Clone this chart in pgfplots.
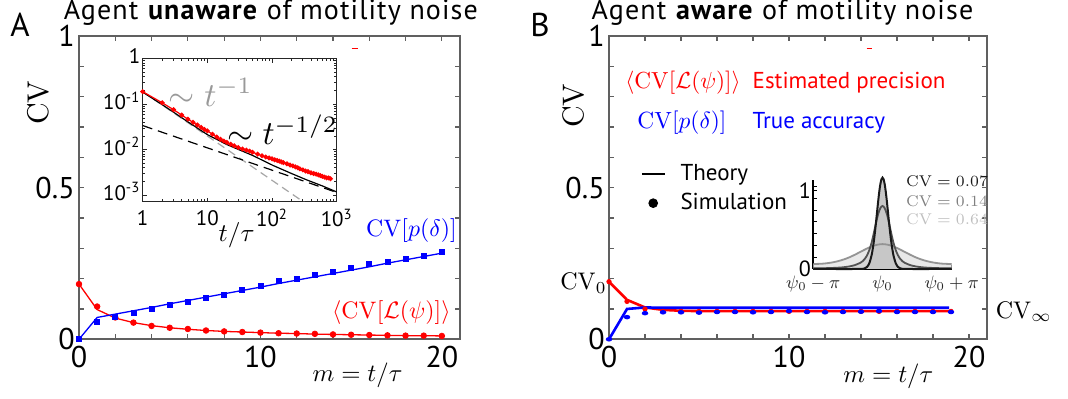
\RequirePackage{fix-cm}
\documentclass[border=0pt]{standalone}
\usepackage[no-math]{fontspec}
\setmainfont{PT Sans}
\usepackage{pgfplots}
\pgfplotsset{compat=1.18}
\definecolor{framegray}{HTML}{606060}
\definecolor{cvred}{HTML}{FF0000}
\definecolor{cvblue}{HTML}{0000FF}
\newcommand\fs[2]{\fontsize{#1}{#2}\selectfont}
\tikzset{mlab/.style={font=\fs{10}{12}, scale=#1, transform shape}}
\pgfplotsset{
  lineimg/.style={legend image code/.code={\draw[##1] (0pt,0pt) -- (11.3pt,0pt);}},
  dotimg/.style={legend image code/.code={\draw[##1] plot coordinates {(5.65pt,0pt)};}},
  mainax/.style={
    anchor=south west, scale only axis, height=151.65pt,
    xmin=0, xmax=21, ymin=0, ymax=1,
    xtick={0,10,20}, xticklabels={0,10,20},
    minor xtick={2,4,6,8,12,14,16,18},
    ytick={0,0.5,1}, yticklabels={0,0.5,1},
    minor ytick={0.1,0.2,0.3,0.4,0.6,0.7,0.8,0.9},
    tick align=inside, major tick length=2.5pt, minor tick length=2.5pt,
    every tick/.style={framegray, line width=0.6pt},
    axis line style={framegray, line width=0.8pt},
    tick label style={font=\fs{15}{18}, black},
    yticklabel style={inner xsep=2pt},
    clip=false,
  }
}
\begin{document}
\begin{tikzpicture}
\path[use as bounding box] (0pt,0pt) rectangle (534pt,199.5pt);

\node[anchor=base, font=\fs{14}{16}\addfontfeatures{LetterSpace=4}] at (135.4pt,189.9pt) {Agent \textbf{unaware} of motility noise};
\node[anchor=base, font=\fs{14}{16}\addfontfeatures{LetterSpace=4}] at (391.25pt,189.9pt) {Agent \textbf{aware} of motility noise};
\node[anchor=base, font=\fs{16.5}{18}] at (10pt,181.15pt) {A};
\node[anchor=base, font=\fs{16.5}{18}] at (270pt,181.15pt) {B};

% ---------------- Panel A main axis
\begin{axis}[mainax, at={(39.5pt,29.85pt)}, width=190.5pt]
\addplot[cvred, line width=0.65pt] coordinates {(0,0.182)(1,0.098)(2,0.070)(3,0.055)(4,0.045)(5,0.038)(6,0.033)(7,0.029)(8,0.026)(9,0.024)(10,0.022)(11,0.020)(12,0.019)(13,0.017)(14,0.016)(15,0.015)(16,0.014)(17,0.013)(18,0.012)(19,0.012)(20,0.011)};
\addplot[cvred, only marks, mark=*, mark size=1.4pt] coordinates {(0,0.182)(1,0.108)(2,0.072)(3,0.055)(4,0.044)(5,0.038)(6,0.034)(7,0.029)(8,0.026)(9,0.024)(10,0.022)(11,0.020)(12,0.019)(13,0.018)(14,0.016)(15,0.015)(16,0.014)(17,0.013)(18,0.012)(19,0.012)(20,0.011)};
\addplot[cvblue, line width=0.65pt] coordinates {(0,0)(1,0.072)(2,0.083)(3,0.094)(4,0.105)(5,0.117)(6,0.128)(7,0.139)(8,0.150)(9,0.161)(10,0.172)(11,0.184)(12,0.195)(13,0.206)(14,0.217)(15,0.228)(16,0.239)(17,0.251)(18,0.262)(19,0.273)(20,0.284)};
\addplot[cvblue, only marks, mark=square*, mark size=1.25pt] coordinates {(0,0)(1,0.057)(2,0.075)(3,0.088)(4,0.100)(5,0.112)(6,0.123)(7,0.135)(8,0.148)(9,0.162)(10,0.176)(11,0.191)(12,0.200)(13,0.212)(14,0.223)(15,0.236)(16,0.249)(17,0.254)(18,0.265)(19,0.275)(20,0.287)};
\addplot[cvred, line width=0.8pt] coordinates {(15.02,0.959)(15.39,0.959)};
\node[cvblue, mlab=1.19] at (axis cs:18.32,0.358) {$\mathrm{CV}[p(\delta)]$};
\node[cvred, mlab=1.19] at (axis cs:17.22,0.089) {$\langle\mathrm{CV}[\mathcal{L}(\psi)]\rangle$};
\node[mlab=1.24] at (rel axis cs:0.731,-0.12) {$m = t/\tau$};
\node[rotate=90, mlab=1.5] at (rel axis cs:-0.108,0.781) {$\mathrm{CV}$};
\end{axis}

% ---------------- Panel A inset (log-log)
\begin{axis}[
  at={(71.35pt,98.65pt)}, anchor=south west, scale only axis,
  width=97pt, height=71.45pt,
  xmode=log, ymode=log, xmin=1, xmax=1000, ymin=7.2e-4, ymax=1,
  xtick={1,10,100,1000}, xticklabels={1,10,10\textsuperscript{2},10\textsuperscript{3}},
  ytick={0.001,0.01,0.1,1}, yticklabels={10\textsuperscript{-3},10\textsuperscript{-2},10\textsuperscript{-1},1},
  typeset ticklabels with strut,
  tick align=inside, major tick length=2pt, minor tick length=1.2pt,
  every tick/.style={black!85, line width=0.4pt},
  axis line style={black!85, line width=0.6pt},
  tick label style={font=\fs{10.5}{12}, black},
  yticklabel style={inner xsep=1pt},
  axis background/.style={fill=white},
  clip mode=individual,
]
\addplot[black!35, line width=0.6pt, dash pattern=on 4pt off 2.5pt] coordinates {(1,0.189)(400,5.5e-4)};
\addplot[black, line width=0.6pt, dash pattern=on 5pt off 3pt] coordinates {(1,0.034)(1000,0.00115)};
\addplot[black, line width=0.6pt] coordinates {(1,0.185)(2,0.098)(3,0.067)(5,0.041)(10,0.0215)(20,0.0130)(32,0.0098)(50,0.0075)(104,0.0045)(200,0.0030)(336,0.0022)(600,0.0016)(1000,0.00118)};
\addplot[cvred, line width=0.6pt, mark=*, mark size=0.9pt] coordinates {(1,0.189)(2,0.108)(3,0.076)(4,0.058)(5,0.047)(6,0.040)(7,0.035)(8,0.031)(9,0.028)(10,0.026)(12,0.022)(14,0.019)(16,0.017)(18,0.0155)(20,0.0145)(23,0.0132)(26,0.0122)(30,0.0112)(35,0.0104)(40,0.0098)(45,0.0093)(50,0.0088)(60,0.0080)(70,0.0074)(80,0.0069)(90,0.0066)(100,0.0063)(110,0.0060)(120,0.0058)(130,0.0056)(140,0.0054)(150,0.0052)(170,0.0049)(190,0.0046)(210,0.0044)(230,0.0042)(250,0.0040)(270,0.0038)(300,0.0036)(330,0.0034)(360,0.0033)(400,0.0031)(440,0.0030)(480,0.0029)(520,0.0028)(560,0.0027)(600,0.0026)(650,0.0025)(700,0.0024)(750,0.0024)(800,0.0023)};
\node[black!40, mlab=1.68] at (axis cs:11.3,0.182) {$\sim t^{-1}$};
\node[black, mlab=1.68] at (axis cs:145,0.0272) {$\sim t^{-1/2}$};
\node[mlab=1.27] at (rel axis cs:0.484,-0.237) {$t/\tau$};
\end{axis}

% ---------------- Panel B main axis
\begin{axis}[mainax, at={(304.5pt,29.85pt)}, width=189pt,
  legend style={at={(axis cs:1.75,0.578)}, anchor=north west, draw=none, fill=none,
    inner sep=0pt, row sep=5pt, font=\fs{11.5}{13},
    nodes={inner sep=0pt}, cells={anchor=west},
    /tikz/every odd column/.append style={column sep=7.5pt}},
]
\addlegendimage{black, line width=1pt, lineimg}
\addlegendentry{Theory}
\addlegendimage{black, only marks, mark=*, mark size=2.2pt, dotimg}
\addlegendentry{Simulation}
\addplot[cvred, line width=1.3pt] coordinates {(0,0.19)(1,0.13)(2,0.105)(3,0.097)(4,0.094)(5,0.093)(10,0.093)(15,0.093)(18.9,0.093)};
\addplot[cvred, only marks, mark=*, mark size=1.1pt] coordinates {(0,0.19)(1,0.125)(2,0.100)(3,0.092)(4,0.092)(5,0.092)(6,0.092)(7,0.092)(8,0.092)(9,0.092)(10,0.092)(11,0.092)(12,0.092)(13,0.092)(14,0.092)(15,0.092)(16,0.092)(17,0.092)(18,0.092)(19,0.092)};
\addplot[cvblue, line width=1.3pt] coordinates {(0,0)(1,0.100)(2,0.105)(3,0.104)(5,0.104)(10,0.104)(15,0.104)(18.9,0.104)};
\addplot[cvblue, only marks, mark=*, mark size=1.4pt, mark options={yscale=0.65}] coordinates {(0,0)(1,0.073)(2,0.086)(3,0.089)(4,0.089)(5,0.088)(6,0.090)(7,0.090)(8,0.089)(9,0.090)(10,0.093)(11,0.090)(12,0.089)(13,0.090)(14,0.091)(15,0.093)(16,0.090)(17,0.090)(18,0.090)(19,0.090)};
\addplot[cvred, line width=0.8pt] coordinates {(14.31,0.959)(14.62,0.959)};
\node[anchor=base west, inner sep=0pt, cvred, mlab=1.16] at (axis cs:0.88,0.828) {$\langle\mathrm{CV}[\mathcal{L}(\psi)]\rangle$};
\node[anchor=base west, inner sep=0pt, cvred, font=\fs{11.5}{14}] at (axis cs:7.96,0.828) {Estimated precision};
\node[anchor=base west, inner sep=0pt, cvblue, mlab=1.17] at (axis cs:1.55,0.695) {$\mathrm{CV}[p(\delta)]$};
\node[anchor=base west, inner sep=0pt, cvblue, font=\fs{11.5}{14}] at (axis cs:7.96,0.695) {True accuracy};
\node[anchor=base east, inner sep=0pt, mlab=1.2] at (axis cs:-0.1,0.163) {$\mathrm{CV}_0$};
\node[anchor=base west, inner sep=0pt, mlab=1.2] at (axis cs:21.46,0.069) {$\mathrm{CV}_\infty$};
\node[mlab=1.24] at (rel axis cs:0.739,-0.122) {$m = t/\tau$};
\node[rotate=90, mlab=1.5] at (rel axis cs:-0.095,0.771) {$\mathrm{CV}$};
\end{axis}

% ---------------- Panel B inset
\begin{axis}[
  at={(406.65pt,65pt)}, anchor=south west, scale only axis,
  width=69.2pt, height=44.5pt,
  xmin=-3.1416, xmax=3.1416, ymin=0, ymax=1.13,
  axis x line=bottom, axis y line=left,
  axis line style={-, black, line width=1pt},
  xtick={-3.1416,0,3.1416}, xticklabels={$\psi_0-\pi$,$\psi_0$,$\psi_0+\pi$},
  minor xtick={-1.5708,1.5708},
  ytick={0,1}, yticklabels={0,1},
  minor ytick={0.15,0.3,0.45,0.6,0.75,0.9,1.05},
  tick align=inside, major tick length=2pt, minor tick length=2pt,
  every tick/.style={black, line width=0.4pt},
  xticklabel style={font=\fs{9}{11}, black!85},
  yticklabel style={font=\fs{11}{13}, inner xsep=1pt},
  clip=false,
]
\addplot[draw=none, fill=black!9] coordinates {(-3.1416,0.063)(-2.75,0.067)(-2.5,0.074)(-2.25,0.085)(-2.0,0.101)(-1.75,0.122)(-1.5,0.149)(-1.25,0.182)(-1.0,0.218)(-0.75,0.254)(-0.5,0.286)(-0.25,0.3075)(0,0.316)(0.25,0.3075)(0.5,0.286)(0.75,0.254)(1.0,0.218)(1.25,0.182)(1.5,0.149)(1.75,0.122)(2.0,0.101)(2.25,0.085)(2.5,0.074)(2.75,0.067)(3.1416,0.063)} \closedcycle;
\addplot[draw=none, fill=black!16] coordinates {(-3.1416,0.008)(-2.5,0.011)(-2.0,0.017)(-1.75,0.023)(-1.5,0.033)(-1.25,0.05)(-1.0,0.08)(-0.9,0.10)(-0.8,0.13)(-0.7,0.175)(-0.6,0.24)(-0.5,0.33)(-0.4,0.45)(-0.3,0.58)(-0.2,0.695)(-0.1,0.772)(0,0.80)(0.1,0.772)(0.2,0.695)(0.3,0.58)(0.4,0.45)(0.5,0.33)(0.6,0.24)(0.7,0.175)(0.8,0.13)(0.9,0.10)(1.0,0.08)(1.25,0.05)(1.5,0.033)(1.75,0.023)(2.0,0.017)(2.5,0.011)(3.1416,0.008)} \closedcycle;
\addplot[draw=none, fill=black!22] coordinates {(-3.1416,0)(-1.0,0)(-0.9,0.002)(-0.8,0.0085)(-0.7,0.027)(-0.6,0.073)(-0.5,0.170)(-0.45,0.245)(-0.4,0.339)(-0.35,0.452)(-0.3,0.581)(-0.25,0.717)(-0.2,0.853)(-0.15,0.976)(-0.1,1.074)(-0.05,1.138)(0,1.160)(0.05,1.138)(0.1,1.074)(0.15,0.976)(0.2,0.853)(0.25,0.717)(0.3,0.581)(0.35,0.452)(0.4,0.339)(0.45,0.245)(0.5,0.170)(0.6,0.073)(0.7,0.027)(0.8,0.0085)(0.9,0.002)(1.0,0)(3.1416,0)} \closedcycle;
\addplot[black!42, line width=0.9pt, smooth] coordinates {(-3.1416,0.063)(-2.75,0.067)(-2.5,0.074)(-2.25,0.085)(-2.0,0.101)(-1.75,0.122)(-1.5,0.149)(-1.25,0.182)(-1.0,0.218)(-0.75,0.254)(-0.5,0.286)(-0.25,0.3075)(0,0.316)(0.25,0.3075)(0.5,0.286)(0.75,0.254)(1.0,0.218)(1.25,0.182)(1.5,0.149)(1.75,0.122)(2.0,0.101)(2.25,0.085)(2.5,0.074)(2.75,0.067)(3.1416,0.063)};
\addplot[black!68, line width=0.9pt, smooth] coordinates {(-3.1416,0.008)(-2.5,0.011)(-2.0,0.017)(-1.75,0.023)(-1.5,0.033)(-1.25,0.05)(-1.0,0.08)(-0.9,0.10)(-0.8,0.13)(-0.7,0.175)(-0.6,0.24)(-0.5,0.33)(-0.4,0.45)(-0.3,0.58)(-0.2,0.695)(-0.1,0.772)(0,0.80)(0.1,0.772)(0.2,0.695)(0.3,0.58)(0.4,0.45)(0.5,0.33)(0.6,0.24)(0.7,0.175)(0.8,0.13)(0.9,0.10)(1.0,0.08)(1.25,0.05)(1.5,0.033)(1.75,0.023)(2.0,0.017)(2.5,0.011)(3.1416,0.008)};
\addplot[black!90, line width=1pt, smooth] coordinates {(-3.1416,0)(-1.0,0)(-0.9,0.002)(-0.8,0.0085)(-0.7,0.027)(-0.6,0.073)(-0.5,0.170)(-0.45,0.245)(-0.4,0.339)(-0.35,0.452)(-0.3,0.581)(-0.25,0.717)(-0.2,0.853)(-0.15,0.976)(-0.1,1.074)(-0.05,1.138)(0,1.160)(0.05,1.138)(0.1,1.074)(0.15,0.976)(0.2,0.853)(0.25,0.717)(0.3,0.581)(0.35,0.452)(0.4,0.339)(0.45,0.245)(0.5,0.170)(0.6,0.073)(0.7,0.027)(0.8,0.0085)(0.9,0.002)(1.0,0)(3.1416,0)};
\node[black!90, font=\fs{7.8}{9}] at (rel axis cs:0.966,0.989) {$\mathrm{CV}=0.07$};
\node[black!50, font=\fs{7.8}{9}] at (rel axis cs:0.966,0.764) {$\mathrm{CV}=0.14$};
\node[black!25, font=\fs{7.8}{9}] at (rel axis cs:0.966,0.562) {$\mathrm{CV}=0.64$};
\end{axis}
\end{tikzpicture}
\end{document}
